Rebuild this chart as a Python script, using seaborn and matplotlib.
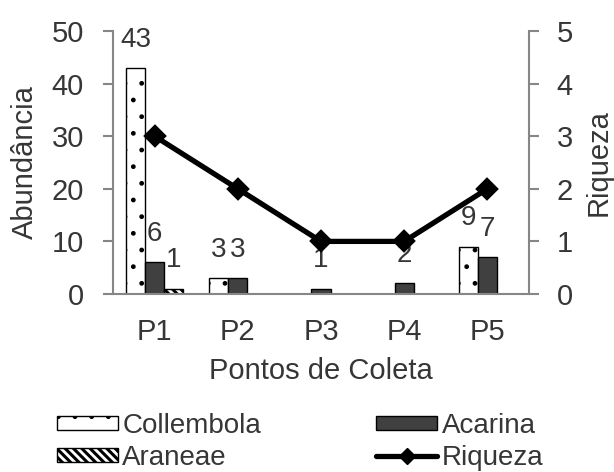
import numpy as np
import pandas as pd
import matplotlib
matplotlib.use("Agg")
import matplotlib.pyplot as plt
from matplotlib.patches import Patch
from matplotlib.lines import Line2D
import seaborn as sns

pontos = ["P1", "P2", "P3", "P4", "P5"]
collembola = [43, 3, 0, 0, 9]
acarina = [6, 3, 1, 2, 7]
araneae = [1, 0, 0, 0, 0]
riqueza = [3, 2, 1, 1, 2]
grupos = ["Collembola", "Acarina", "Araneae"]

sns.set_theme(style="white")
plt.rcParams["font.family"] = ["Liberation Sans", "DejaVu Sans"]
plt.rcParams["hatch.linewidth"] = 1.0
TXT = "#363636"
GRID = "#868686"
DIAG = "\\\\\\\\"

df = pd.DataFrame({
    "Ponto": pontos * 3,
    "Grupo": sum([[g] * 5 for g in grupos], []),
    "Valor": collembola + acarina + araneae,
})

fig = plt.figure(figsize=(6.14, 4.72), dpi=100)
ax = fig.add_axes([113 / 614, 1 - 294 / 472, 416 / 614, 263 / 472])

sns.barplot(data=df, x="Ponto", y="Valor", hue="Grupo", hue_order=grupos,
            order=pontos,
            palette={"Collembola": "white", "Acarina": "#404040", "Araneae": "white"},
            width=0.69, edgecolor="black", linewidth=1.0, ax=ax, legend=False,
            errorbar=None, saturation=1)

hatches = [".", None, DIAG]
for cont, h, vals in zip(ax.containers, hatches, [collembola, acarina, araneae]):
    for p, v in zip(cont, vals):
        if h:
            p.set_hatch(h)
            if h == DIAG and hasattr(p, "set_hatch_linewidth"):
                p.set_hatch_linewidth(2.2)
        if v == 0:
            p.set_visible(False)
    labels = [str(v) if v > 0 else "" for v in vals]
    ax.bar_label(cont, labels=labels, padding=11, fontsize=20, color=TXT)

ax.set_ylim(0, 50)
ax.set_yticks([0, 10, 20, 30, 40, 50])
ax.set_xlim(-0.5, 4.5)
ax.set_xticks(range(5))
ax.set_xticklabels(pontos)
ax.set_xticks(np.arange(-0.5, 5.0, 1.0), minor=True)
ax.tick_params(axis="x", which="major", length=0, pad=17, labelsize=21, labelcolor=TXT)
ax.tick_params(axis="x", which="minor", length=7, width=1.5, color=GRID, direction="out")
ax.tick_params(axis="y", which="major", length=7, width=1.5, color=GRID, direction="out",
               pad=14, labelsize=21, labelcolor=TXT, left=True)
ax.set_xlabel("Pontos de Coleta", fontsize=21, color=TXT, labelpad=8)
ax.set_ylabel("Abundância", fontsize=21, color=TXT, labelpad=9)
for s in ["top", "right"]:
    ax.spines[s].set_visible(False)
for s in ["left", "bottom"]:
    ax.spines[s].set_color(GRID)
    ax.spines[s].set_linewidth(1.5)

ax2 = ax.twinx()
sns.pointplot(x=pontos, y=riqueza, order=pontos, color="black", markers="D",
              linestyles="-", ax=ax2, markersize=9, linewidth=3.8)
ax2.set_ylim(0, 5)
ax2.set_xlim(-0.5, 4.5)
ax2.set_yticks([0, 1, 2, 3, 4, 5])
ax2.tick_params(axis="y", which="major", length=7, width=1.5, color=GRID, direction="out",
                pad=13, labelsize=21, labelcolor=TXT, right=True)
ax2.set_ylabel("Riqueza", fontsize=21, color=TXT, labelpad=8)
for s in ["top", "left", "bottom"]:
    ax2.spines[s].set_visible(False)
ax2.spines["right"].set_color(GRID)
ax2.spines["right"].set_linewidth(1.5)

h_col = Patch(facecolor="white", edgecolor="black", hatch=".", linewidth=1.0, label="Collembola")
h_ara = Patch(facecolor="white", edgecolor="black", hatch=DIAG, linewidth=1.0, label="Araneae")
if hasattr(h_ara, "set_hatch_linewidth"):
    h_ara.set_hatch_linewidth(2.2)
h_aca = Patch(facecolor="#404040", edgecolor="black", linewidth=1.0, label="Acarina")
h_riq = Line2D([0], [0], color="black", lw=3.8, marker="D", markersize=8, label="Riqueza")
leg = fig.legend(handles=[h_col, h_ara, h_aca, h_riq], ncol=2, loc="upper left",
                 bbox_to_anchor=(57 / 614, 1 - 413 / 472), frameon=False,
                 fontsize=20, handlelength=2.2, handleheight=0.4, handletextpad=0.15,
                 columnspacing=4.15, labelspacing=0.2, borderpad=0, borderaxespad=0)
for t in leg.get_texts():
    t.set_color(TXT)
for p in leg.get_patches():
    if p.get_hatch() == DIAG and hasattr(p, "set_hatch_linewidth"):
        p.set_hatch_linewidth(2.2)

fig.savefig("out.png", dpi=100)
